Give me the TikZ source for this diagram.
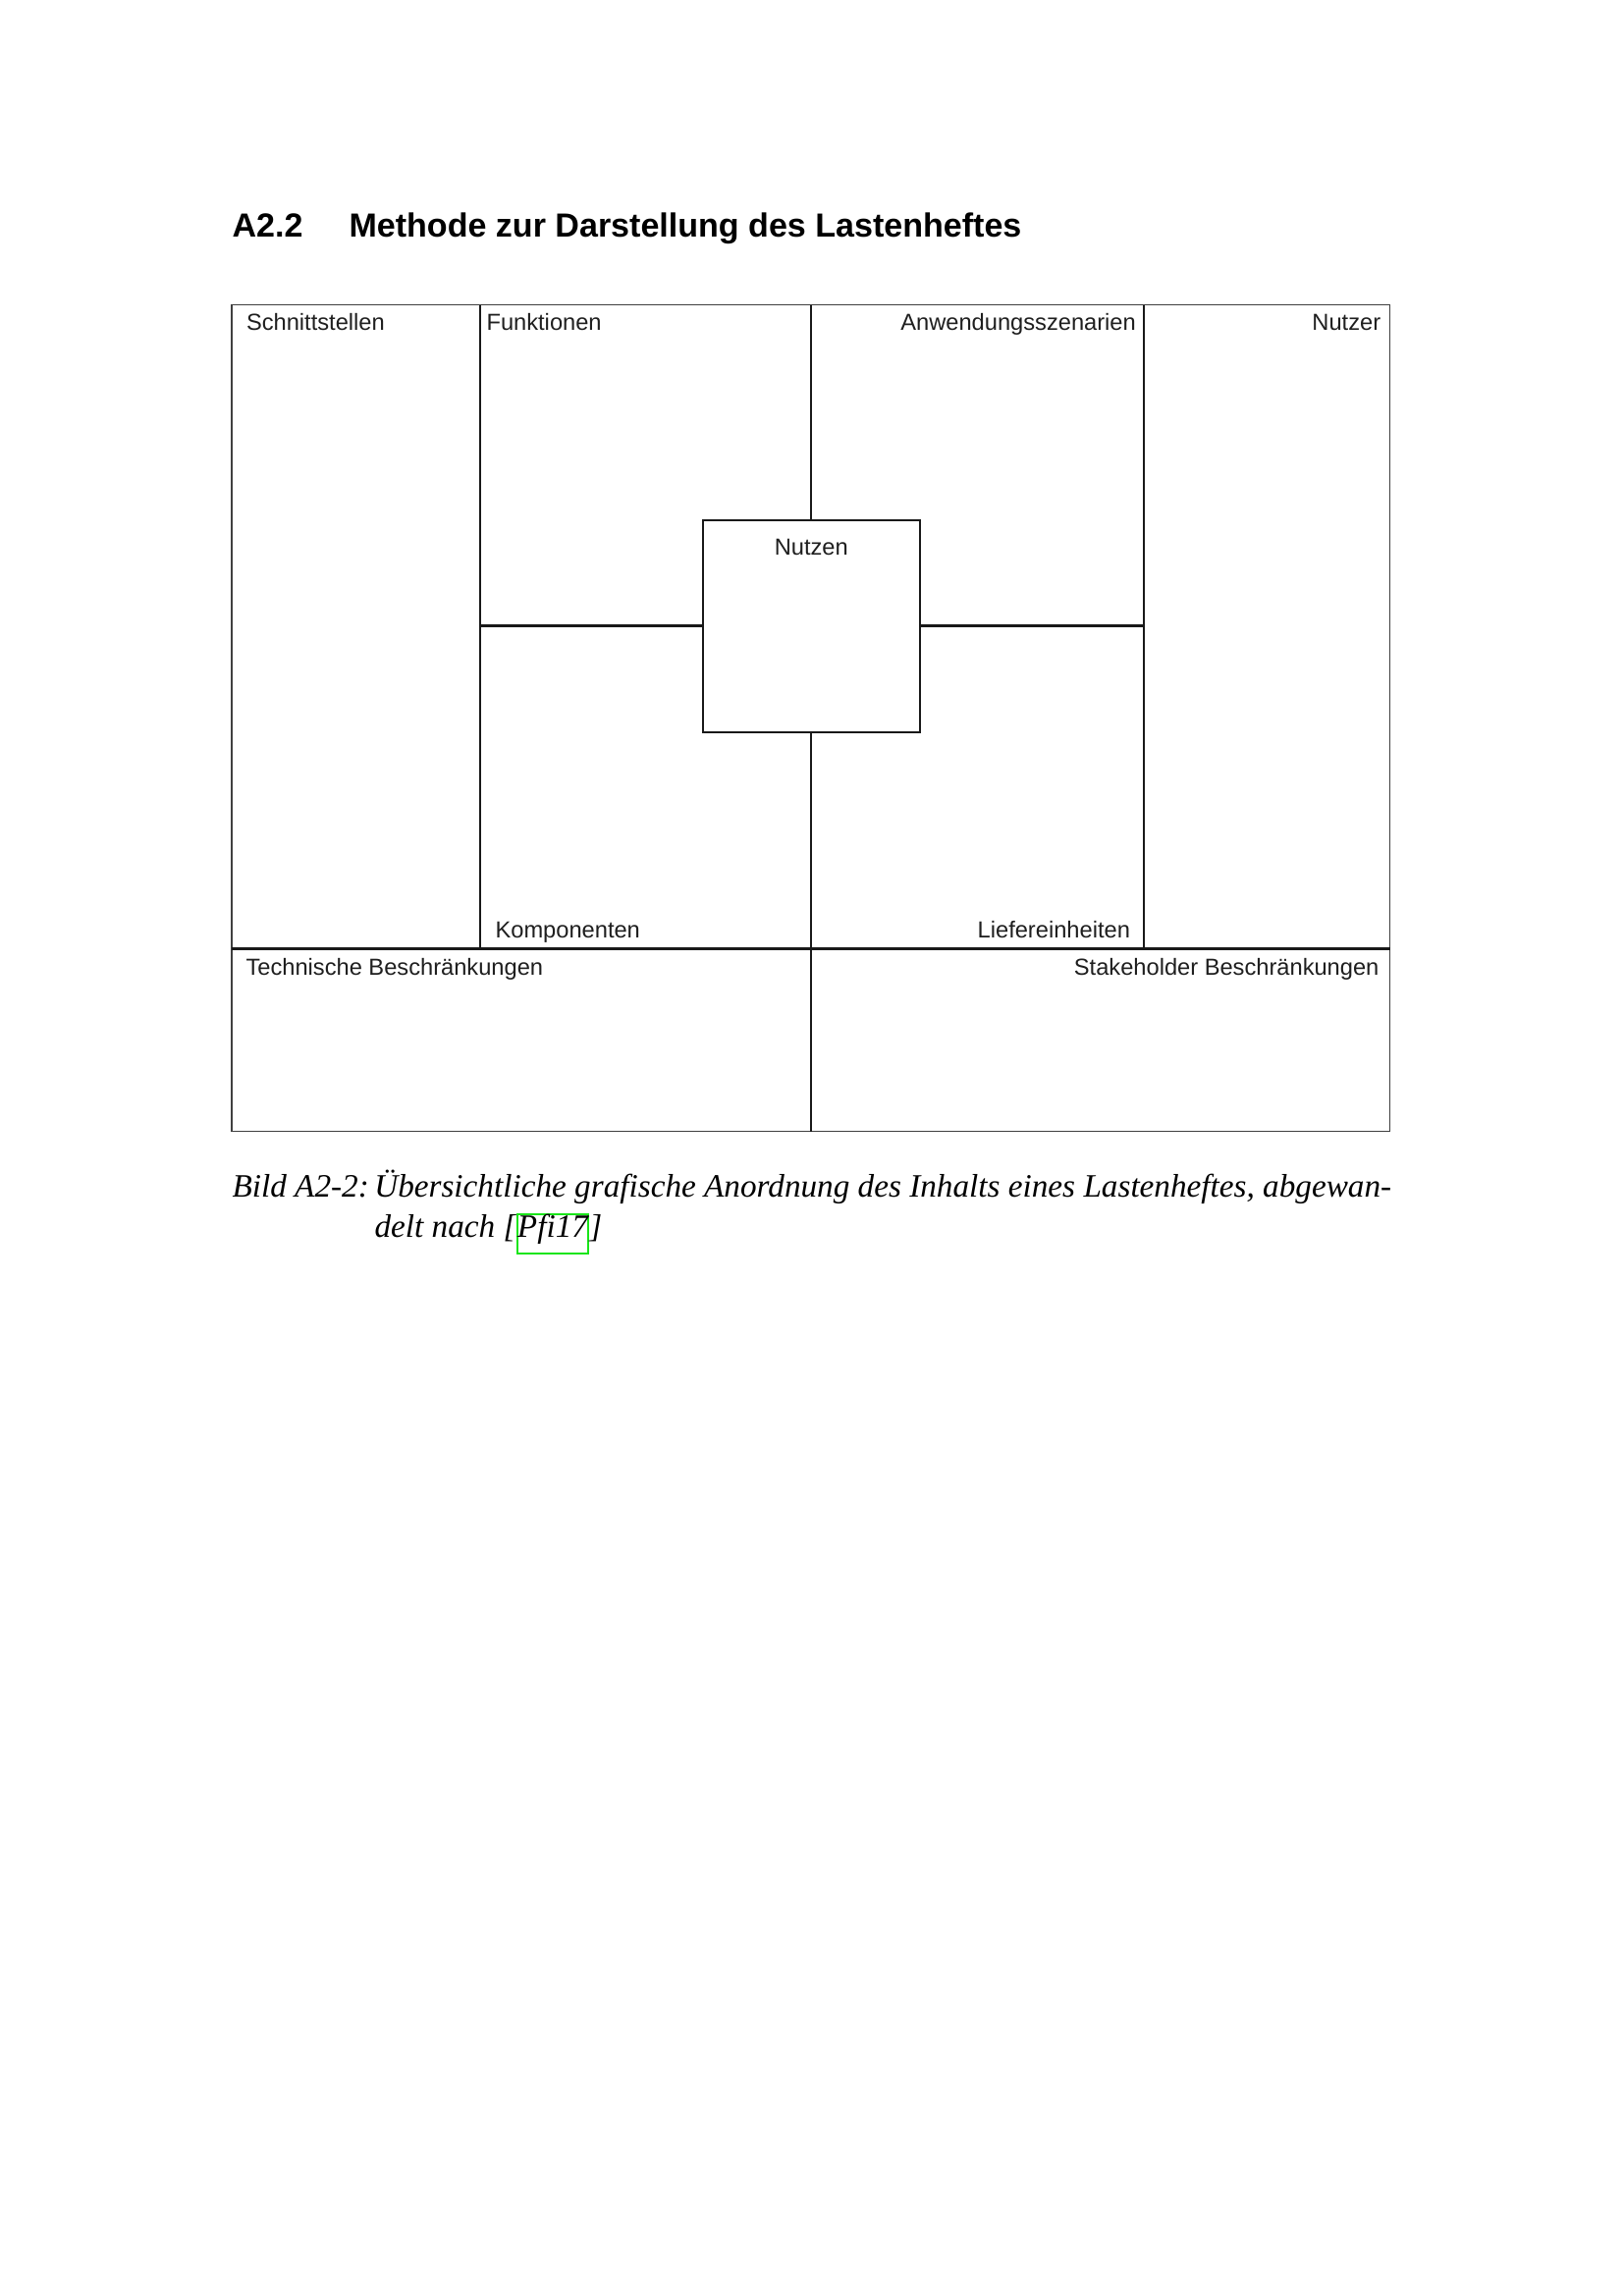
\documentclass[tikz,border=0pt]{standalone}
\usepackage{fontspec}
\newfontfamily\sansfont{Liberation Sans}
\newfontfamily\capfont{Liberation Serif}
\definecolor{linkgreen}{rgb}{0.1,0.9,0.1}
\tikzset{
  heading/.style={anchor=base west, inner sep=0pt,
    font=\sansfont\bfseries\fontsize{12.3}{14}\selectfont},
  field/.style={inner sep=0pt, text=black!88,
    font=\sansfont\fontsize{8.55}{10}\selectfont},
  caption/.style={anchor=base west, inner sep=0pt,
    font=\capfont\itshape\fontsize{12}{14.8}\selectfont},
  frame/.style={draw=black!75, line width=0.5pt},
  divider/.style={draw=black!90, line width=0.75pt},
}

\begin{document}
\begin{tikzpicture}[x=0.36127pt,y=-0.36127pt]
\useasboundingbox (0,0) rectangle (1654,2339);
\fill[white] (0,0) rectangle (1654,2339);

% heading
\node (secnum) [heading] at (236,241.5) {A2.2};
\node (sectitle) [heading] at (355,241.5) {Methode zur Darstellung des Lastenheftes};

% frame corners
\coordinate (tl) at (236,310.5);
\coordinate (br) at (1415.5,1152.5);
\coordinate (ml) at (236,966.5);
\coordinate (mr) at (1415.5,966.5);
\coordinate (fa) at (489,310.5);
\coordinate (fb) at (489,966.5);
\coordinate (ga) at (1165,310.5);
\coordinate (gb) at (1165,966.5);
\coordinate (ca) at (826.3,310.5);
\coordinate (cb) at (826.3,966.5);
\coordinate (cc) at (826.3,1152.5);
\coordinate (ha) at (489,637.5);
\coordinate (hb) at (1165,637.5);

% centre box
\node (nutzen) [divider, fill=white, minimum width=221pt*0.36127,
  minimum height=215.5pt*0.36127, inner sep=0pt] at (826.3,638) {};

\draw[frame] (tl) rectangle (br);
\draw[divider] (ml) -- (mr);
\draw[divider] (fa) -- (fb);
\draw[divider] (ga) -- (gb);
\draw[divider] (ca) -- (nutzen.north);
\draw[divider] (nutzen.south) -- (cb);
\draw[divider] (cb) -- (cc);
\draw[divider] (ha) -- (ha -| nutzen.west);
\draw[divider] (nutzen.east |- hb) -- (hb);

% field labels
\node (schnitt) [field, anchor=base west] at (250.5,336) {Schnittstellen};
\node (funkt) [field, anchor=base west] at (495,336) {Funktionen};
\node (anwend) [field, anchor=base east] at (1157.4,336) {Anwendungsszenarien};
\node (nutzer) [field, anchor=base east] at (1406.7,336) {Nutzer};
\node (nutzenlbl) [field, anchor=base] at (826.3,565.7) {Nutzen};
\node (kompo) [field, anchor=base west] at (504,955) {Komponenten};
\node (liefer) [field, anchor=base east] at (1151.5,955) {Liefereinheiten};
\node (techb) [field, anchor=base west] at (250,993) {Technische Beschränkungen};
\node (stakeb) [field, anchor=base east] at (1405,993) {Stakeholder Beschränkungen};

% caption
\node (capone) [caption] at (236,1219)
  {\hbox to 426.5pt{\makebox[52.3pt][l]{Bild A2-2:}Übersichtliche grafische Anordnung des Inhalts eines Lastenheftes, abgewan-}};
\node (captwo) [caption] at (381,1260) {delt nach [};
\node (capref) [caption, draw=linkgreen, line width=0.7pt, inner xsep=0pt,
  text height=8.4pt, text depth=6pt] at (captwo.base east) {Pfi17};
\node (capend) [caption] at (capref.base east) {]};
\end{tikzpicture}
\end{document}
